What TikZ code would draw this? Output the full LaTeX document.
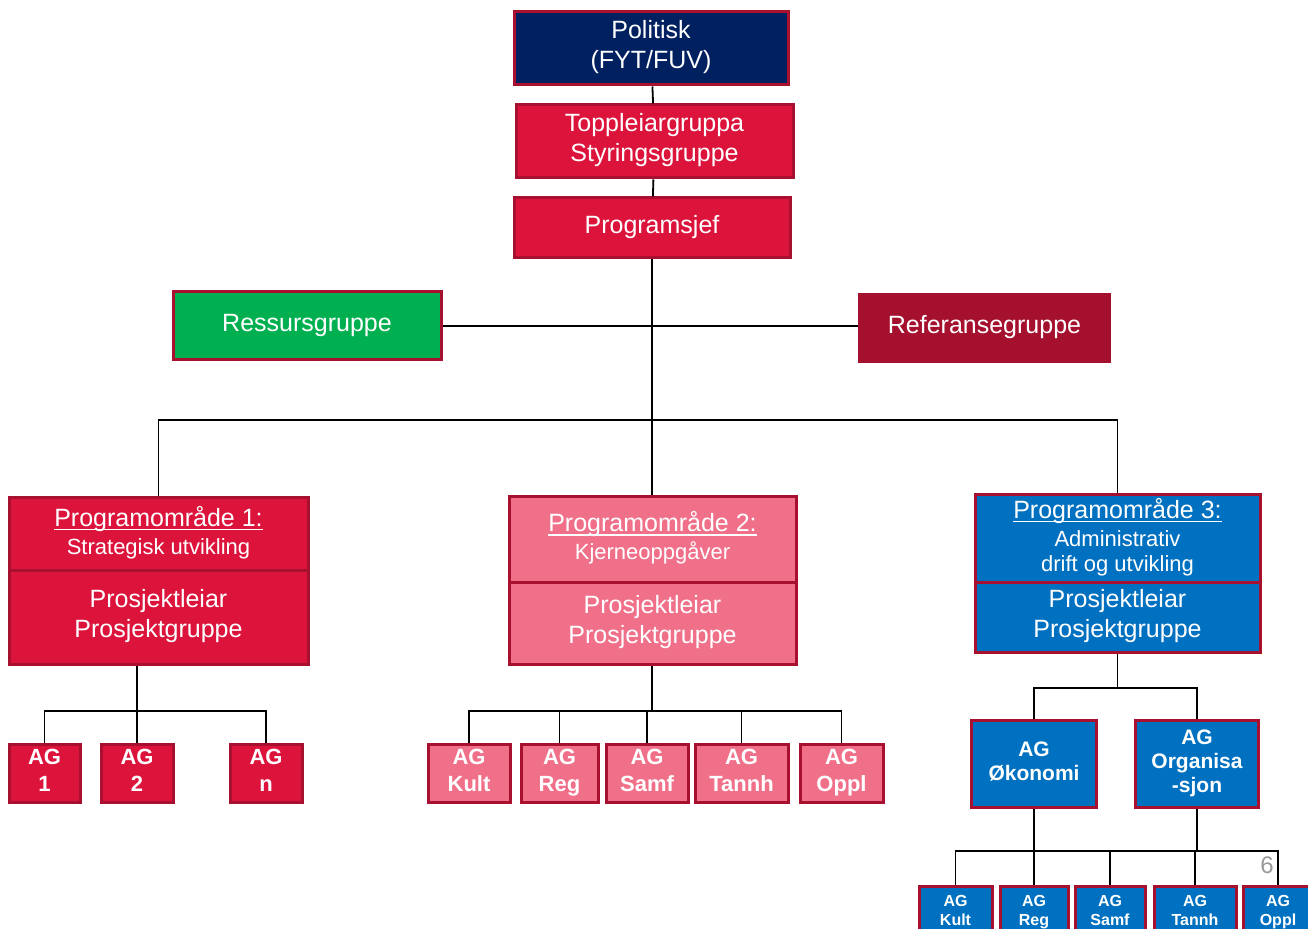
\documentclass[tikz,border=0pt]{standalone}
\usepackage{fontspec}
\setmainfont{Liberation Sans}
\definecolor{navy}{RGB}{0,32,96}
\definecolor{rot}{RGB}{220,20,60}
\definecolor{rand}{RGB}{168,16,48}
\definecolor{rosa}{RGB}{240,112,138}
\definecolor{blau}{RGB}{0,112,192}
\definecolor{gruen}{RGB}{0,176,80}
\definecolor{weinrot}{RGB}{165,16,46}
\newcommand{\unterzeile}{\fontsize{11}{12.5}\selectfont}
\newcommand{\strich}[1]{\setbox0\hbox{#1}\rlap{\rule[-2pt]{\wd0}{0.6pt}}\box0}

\begin{document}
\begin{tikzpicture}[x=0.5pt,y=-0.5pt,
  every node/.style={
    rectangle, text=white, align=center, inner sep=0pt,
    font=\fontsize{12.5}{15}\selectfont,
    execute at begin node=\strut, execute at end node=\strut
  },
  box/.style={draw=rand, line width=1.5pt},
  ag/.style={box, font=\fontsize{11}{13.5}\selectfont\bfseries, minimum height=29pt},
  agklein/.style={box, font=\fontsize{8}{9.5}\selectfont\bfseries, minimum height=26pt},
  linie/.style={draw=black, line width=0.9pt}
]
\clip (0,0) rectangle (1308,929);

\node[box, fill=navy, minimum width=137pt, minimum height=36.5pt] (politisk) at (651,48.5) {Politisk\\(FYT/FUV)};
\node[box, fill=rot, minimum width=138.5pt, minimum height=36.5pt] (toppleiar) at (654.5,141.5) {Toppleiargruppa\\Styringsgruppe};
\node[box, fill=rot, minimum width=138pt, minimum height=30pt] (sjef) at (652,228) {Programsjef};
\node[box, fill=gruen, minimum width=134pt, minimum height=34pt] (ressurs) at (307,326) {Ressursgruppe};
\node[fill=weinrot, minimum width=126.5pt, minimum height=35pt] (referanse) at (984.5,328) {Referansegruppe};

% Programomraade
\node[box, fill=rot, minimum width=149.5pt, minimum height=36.5pt] (omr1) at (158.5,534.5) {\strich{Programområde 1:}\\[-1pt]{\unterzeile Strategisk utvikling}};
\node[box, fill=rot, minimum width=149.5pt, minimum height=47pt] (leiar1) at (158.5,618) {Prosjektleiar\\Prosjektgruppe};
\node[box, fill=rosa, minimum width=143.5pt, minimum height=43pt] (omr2) at (652.5,540) {\strich{Programområde 2:}\\[-1pt]{\unterzeile Kjerneoppgåver}};
\node[box, fill=rosa, minimum width=143.5pt, minimum height=41pt] (leiar2) at (652.5,624) {Prosjektleiar\\Prosjektgruppe};
\node[box, fill=blau, minimum width=142.5pt, minimum height=44pt] (omr3) at (1117.5,539) {\strich{Programområde 3:}\\[-1pt]{\unterzeile Administrativ}\\[-2.5pt]{\unterzeile drift og utvikling}};
\node[box, fill=blau, minimum width=142.5pt, minimum height=35pt] (leiar3) at (1117.5,618) {Prosjektleiar\\Prosjektgruppe};

% AG 1
\node[ag, fill=rot, minimum width=35.5pt] (ag1) at (44.5,774) {AG\\1};
\node[ag, fill=rot, minimum width=36pt] (ag2) at (137,774) {AG\\2};
\node[ag, fill=rot, minimum width=36pt] (agn) at (266,774) {AG\\n};

% AG 2
\node[ag, fill=rosa, minimum width=41pt] (kult) at (469,774) {AG\\Kult};
\node[ag, fill=rosa, minimum width=38.5pt] (reg) at (559.5,774) {AG\\Reg};
\node[ag, fill=rosa, minimum width=41pt] (samf) at (647,774) {AG\\Samf};
\node[ag, fill=rosa, minimum width=46.5pt] (tannh) at (741.5,774) {AG\\Tannh};
\node[ag, fill=rosa, minimum width=41.5pt] (oppl) at (841.5,774) {AG\\Oppl};

% AG 3
\node[ag, fill=blau, font=\fontsize{10.5}{12}\selectfont\bfseries, minimum width=62.5pt, minimum height=43.5pt] (okonomi) at (1034,764.5) {AG\\Økonomi};
\node[ag, fill=blau, font=\fontsize{10.5}{12}\selectfont\bfseries, minimum width=61.5pt, minimum height=43.5pt] (organisasjon) at (1197,764.5) {AG\\Organisa\\-sjon};
\node[agklein, fill=blau, minimum width=36.5pt] (kult3) at (955.5,913) {AG\\Kult};
\node[agklein, fill=blau, minimum width=34pt] (reg3) at (1034,913) {AG\\Reg};
\node[agklein, fill=blau, minimum width=35pt] (samf3) at (1110,913) {AG\\Samf};
\node[agklein, fill=blau, minimum width=41pt] (tannh3) at (1195,913) {AG\\Tannh};
\node[agklein, fill=blau, minimum width=35pt] (oppl3) at (1278,913) {AG\\Oppl};

\node[text=gray!80, font=\fontsize{12}{14}\selectfont] (seite) at (1267,868) {6};

\coordinate (bar0) at (652,420);
\coordinate (bar1) at (137,711);
\coordinate (bar2) at (652,711);
\coordinate (bar3) at (1118,688);
\coordinate (bar4) at (1110,851);

\path[linie] (politisk) -- (toppleiar);
\path[linie] (toppleiar) -- (sjef);
\path[linie] (sjef.south) -- (sjef.south |- omr2.north);
\path[linie] (ressurs.east) -- (ressurs.east -| referanse.west);
\path[linie] (omr1.north) |- (bar0) -| (omr3.north);

\path[linie] (ag1.north) |- (bar1) -| (agn.north);
\path[linie] (leiar1.south -| bar1) -- (ag2.north);

\path[linie] (kult.north) |- (bar2) -| (oppl.north);
\path[linie] (leiar2.south -| bar2) -- (bar2);
\foreach \n in {reg,samf,tannh}
  \path[linie] (\n.north) -- (\n.north |- bar2);

\path[linie] (okonomi.north) |- (bar3) -| (organisasjon.north);
\path[linie] (leiar3.south) -- (leiar3.south |- bar3);

\path[linie] (kult3.north) |- (bar4) -| (oppl3.north);
\path[linie] (okonomi.south) -- (reg3.north);
\path[linie] (organisasjon.south) -- (organisasjon.south |- bar4);
\foreach \n in {samf3,tannh3}
  \path[linie] (\n.north) -- (\n.north |- bar4);
\end{tikzpicture}
\end{document}
